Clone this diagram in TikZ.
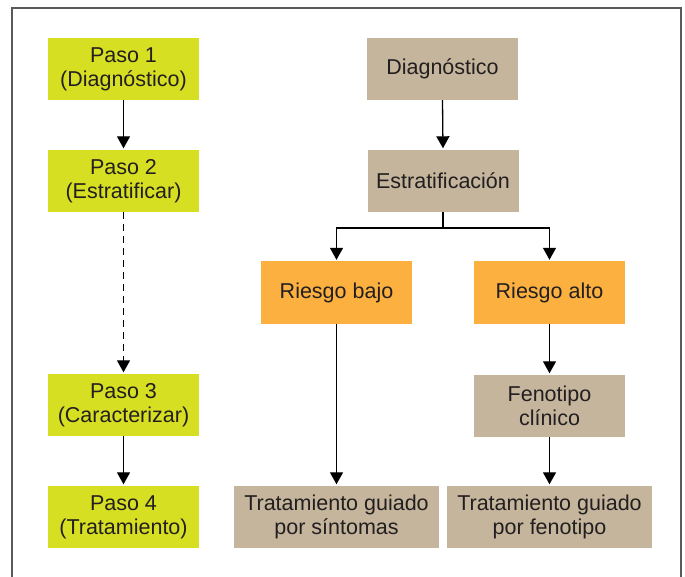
\documentclass[tikz,border=0pt]{standalone}
\usepackage{fontspec}
\setmainfont{Liberation Sans}
\usetikzlibrary{arrows.meta}
\definecolor{gfill}{HTML}{D7DF23}
\definecolor{tfill}{HTML}{C4B59C}
\definecolor{ofill}{HTML}{FBB040}
\definecolor{framec}{HTML}{5A5A5A}
\definecolor{txt}{HTML}{231F20}
\tikzset{
  box/.style={rectangle, inner sep=0pt, minimum width=151pt, minimum height=62pt, align=center, text=txt, font=\fontsize{21.5}{24}\selectfont},
  gbox/.style={box, fill=gfill},
  tbox/.style={box, fill=tfill},
  obox/.style={box, fill=ofill},
  wbox/.style={box, fill=tfill, minimum width=205pt},
  arr/.style={line width=1.3pt, draw=black, -{Triangle[width=13pt,length=12pt]}, shorten >=1.5pt},
  ln/.style={line width=1.3pt, draw=black},
  frame/.style={line width=2pt, draw=framec}
}
\begin{document}
\begin{tikzpicture}[x=1pt,y=-1pt]
\useasboundingbox (0,0) rectangle (685,577);
\draw[frame] (12,577) -- (12,8) -- (681,8) -- (681,577);
% left column
\node[gbox] (p1) at (123.5,69) {Paso 1\\(Diagnóstico)};
\node[gbox] (p2) at (123.5,181) {Paso 2\\(Estratificar)};
\node[gbox] (p3) at (123.5,405) {Paso 3\\(Caracterizar)};
\node[gbox] (p4) at (123.5,517) {Paso 4\\(Tratamiento)};
\draw[arr] (p1.south) -- (p2.north);
\draw[arr, dash pattern=on 7pt off 5pt] (p2.south) -- (p3.north);
\draw[arr] (p3.south) -- (p4.north);
% right part
\node[tbox] (dg) at (442.5,69) {Diagnóstico};
\node[tbox] (es) at (443,181) {Estratificación};
\node[obox] (rb) at (336.5,292.5) {Riesgo bajo};
\node[obox] (ra) at (549.5,292.5) {Riesgo alto};
\node[tbox] (fc) at (549.5,406) {Fenotipo\\clínico};
\node[wbox] (ts) at (336.5,517) {Tratamiento guiado\\por síntomas};
\node[wbox] (tf) at (549.5,517) {Tratamiento guiado\\por fenotipo};
\coordinate (fork) at (443,228);
\draw[arr] (dg.south) -- (es.north);
\draw[ln] (es.south) -- (fork);
\draw[arr] (fork) -| (rb.north);
\draw[arr] (fork) -| (ra.north);
\draw[arr] (rb.south) -- (ts.north);
\draw[arr] (ra.south) -- (fc.north);
\draw[arr] (fc.south) -- (tf.north);
\end{tikzpicture}
\end{document}
